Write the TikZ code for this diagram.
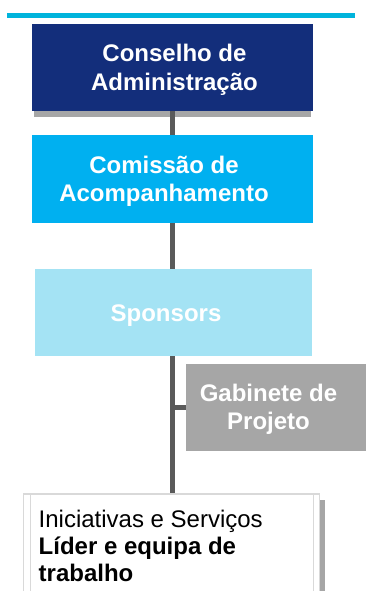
\documentclass[tikz,border=0pt]{standalone}
\usepackage{fontspec}
\setmainfont{Liberation Sans}
\usetikzlibrary{backgrounds}
\definecolor{navy}{HTML}{132E7B}
\definecolor{cyanbox}{HTML}{00B0F0}
\definecolor{skyblue}{HTML}{A4E3F4}
\definecolor{greybox}{HTML}{A6A6A6}
\definecolor{rulecyan}{HTML}{00B4DC}
\definecolor{linkgrey}{HTML}{5A5A5A}
\definecolor{framegrey}{HTML}{D9D9D9}
\begin{document}
\begin{tikzpicture}[x=1pt,y=-1pt,
  box/.style={rectangle, inner sep=0pt, minimum height=87pt},
  title/.style={text=white, align=center, inner sep=0pt, font=\fontsize{24}{28.5}\selectfont\bfseries},
  link/.style={draw=linkgrey, line width=4.5pt}]
  \useasboundingbox (0,0) rectangle (366,591);
  \clip (0,0) rectangle (366,591);

  \draw[rulecyan, line width=5pt] (7,15.5) -- (355,15.5);

  \node[box, fill=navy,    minimum width=281pt](conselho) at (172.5,67.5) {};
  \node[box, fill=cyanbox, minimum width=281pt, minimum height=88pt](comissao) at (172.5,179) {};
  \node[box, fill=skyblue, minimum width=277pt](sponsors) at (173.5,312.5) {};
  \node[box, fill=greybox, minimum width=180pt](gabinete) at (276,407.5) {};
  \node[rectangle, draw=framegrey, line width=1.5pt, minimum width=296pt, minimum height=102pt](lider) at (171.5,545) {};

  \node[title](conselhoText) at (174.5,70)    {Conselho de\\Administração};
  \node[title](comissaoText) at (164,181.5)   {Comissão de\\Acompanhamento};
  \node[title, anchor=base](sponsorsText) at (166,321.7) {Sponsors};
  \node[title](gabineteText) at (268.5,409.5) {Gabinete de\\Projeto};
  \node[anchor=north west, align=left, inner sep=0pt, font=\fontsize{24}{27}\selectfont](liderText) at (38.5,509.5)
    {Iniciativas e Serviços\\\textbf{Líder e equipa de}\\\textbf{trabalho}};

  \draw[framegrey, line width=1.2pt] ([xshift=7.5pt]lider.north west) -- ([xshift=7.5pt]lider.south west);
  \draw[framegrey, line width=1.2pt] ([xshift=-6.5pt]lider.north east) -- ([xshift=-6.5pt]lider.south east);
  \fill[greybox] (320,500) rectangle (325,600);

  \begin{scope}[on background layer]
    \fill[greybox] (34,111) rectangle (311,117);
    \draw[link] (conselho.south) -- (conselho.south |- lider.north);
    \draw[link] (gabinete.west -| conselho.south) -- (gabinete.west);
  \end{scope}
\end{tikzpicture}
\end{document}
